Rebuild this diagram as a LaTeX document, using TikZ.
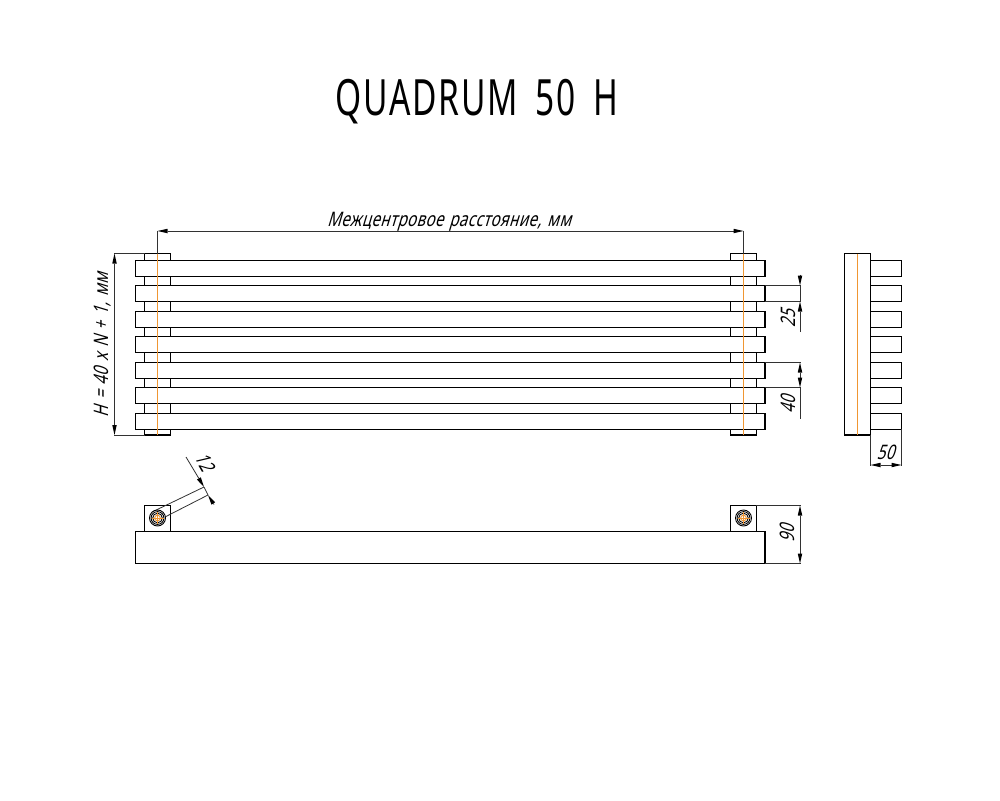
\documentclass[tikz,border=0pt]{standalone}
\usepackage{fontspec}
\usetikzlibrary{arrows.meta}
\newfontfamily\gostup[FakeStretch=0.67,LetterSpace=3.5,WordSpace=1.7]{Noto Sans}
\newfontfamily\gostit[FakeStretch=0.76,FakeSlant=0.3,LetterSpace=2,WordSpace=1.35]{Noto Sans}
\definecolor{axisorange}{RGB}{240,150,50}
\definecolor{dimgray}{RGB}{50,50,50}
\tikzset{
  dimtip/.tip={Stealth[length=10pt,width=4.5pt,inset=0pt,color=black,line width=0pt]},
  part/.style={draw=black, fill=white, line width=1.4pt},
  axisline/.style={draw=axisorange, line width=1pt},
  dimline/.style={draw=dimgray, line width=0.8pt},
  dimarrow/.style={dimline, -dimtip},
  dimboth/.style={dimline, dimtip-dimtip},
  dimtext/.style={font=\gostit\fontsize{20}{20}\selectfont, inner sep=0pt, text=black},
}
\begin{document}
\begin{tikzpicture}[x=1pt, y=-1pt]

  \newcommand\TubeTop{253.5}
  \newcommand\TubeBot{435}
  \useasboundingbox (0, 0) rectangle (1000, 800);

  \node[font=\gostup\fontsize{50}{50}\selectfont, inner sep=0pt] (title) at (477, 102) {QUADRUM 50 H};

  % front view
  \foreach \x in {144.5, 730.5} {
    \draw[part] (\x, \TubeTop) rectangle +(26, 181.5);
  }
  \foreach \y in {260.5, 285.5, 311.5, 336.5, 362.5, 387.5, 413.5} {
    \draw[part] (135.5, \y) rectangle (765, \y+16);
  }
  \draw[axisline] (157.5, \TubeTop) -- (157.5, \TubeBot);
  \draw[axisline] (743.5, \TubeTop) -- (743.5, \TubeBot);

  % side view
  \foreach \y in {260.5, 285.5, 311.5, 336.5, 362.5, 387.5, 413.5} {
    \draw[part] (870, \y) rectangle (901.5, \y+16);
  }
  \draw[part] (844.5, \TubeTop) rectangle (870.5, \TubeBot);
  \draw[axisline] (857.5, \TubeTop) -- (857.5, \TubeBot);

  % bottom view
  \draw[part] (135.5, 531.5) rectangle (765, 563.5);
  \foreach \x/\n in {144.5/L, 730.5/R} {
    \draw[part] (\x, 505.5) rectangle +(26, 26);
    \coordinate (port\n) at (\x+13, 518);
  }
  \draw[dimline] (152, 512) -- (204, 487); % bore
  \draw[dimline] (163, 518) -- (208, 495);
  \foreach \n in {L, R} {
    \foreach \r in {8, 6.4, 4.8} {
      \draw[draw=black, line width=0.9pt, fill=white] (port\n) circle (\r);
    }
    \draw[axisline, line width=0.9pt] (port\n) circle (2.8);
    \draw[axisline, line width=0.8pt] ([xshift=-6pt]port\n) -- ([xshift=6pt]port\n);
    \draw[axisline, line width=0.8pt] ([yshift=-6pt]port\n) -- ([yshift=6pt]port\n);
  }

  % centre distance
  \draw[dimline] (157.5, \TubeTop) -- (157.5, 231);
  \draw[dimline] (743.5, \TubeTop) -- (743.5, 231);
  \draw[dimboth] (157.5, 231) -- (743.5, 231);
  \node[dimtext] (lblcentre) at (449, 221.5) {Межцентровое расстояние, мм};

  % overall height
  \draw[dimline] (144.5, \TubeTop) -- (114, \TubeTop);
  \draw[dimline] (144.5, \TubeBot) -- (114, \TubeBot);
  \draw[dimboth] (114.5, \TubeTop) -- (114.5, \TubeBot);
  \node[dimtext, rotate=90] (lblheight) at (103, 345) {H = 40 x N + 1, мм};

  % gap
  \draw[dimline] (765, 285.5) -- (801, 285.5);
  \draw[dimline] (765, 301.5) -- (801, 301.5);
  \draw[dimline] (800, 285.5) -- (800, 301.5);
  \draw[dimarrow] (800, 274.5) -- (800, 285.5);
  \draw[dimarrow] (800, 332) -- (800, 301.5);
  \node[dimtext, rotate=90] (lblgap) at (788, 319) {25};

  % pitch
  \draw[dimline] (765, 362.5) -- (801, 362.5);
  \draw[dimline] (765, 387.5) -- (801, 387.5);
  \draw[dimboth] (800, 362.5) -- (800, 387.5);
  \draw[dimline] (800, 387.5) -- (800, 419);
  \node[dimtext, rotate=90] (lblpitch) at (788, 405) {40};

  % depth
  \draw[dimline] (870.5, \TubeBot) -- (870.5, 466);
  \draw[dimline] (901.5, 429) -- (901.5, 466);
  \draw[dimboth] (870.5, 465) -- (901.5, 465);
  \node[dimtext] (lbldepth) at (885.5, 452) {50};

  % height of bottom view
  \draw[dimline] (756, 505.5) -- (801, 505.5);
  \draw[dimline] (765, 563.5) -- (801, 563.5);
  \draw[dimboth] (800, 505.5) -- (800, 563.5);
  \node[dimtext, rotate=90] (lblninety) at (787, 534) {90};

  % bore diameter
  \draw[dimline] (204, 487) -- (208, 495);
  \draw[dimarrow] (186, 457) -- (204, 487);
  \draw[dimarrow] (214, 504.5) -- (208, 495);
  \node[dimtext, rotate=-60] (lblbore) at (205, 462) {12};

\end{tikzpicture}
\end{document}
